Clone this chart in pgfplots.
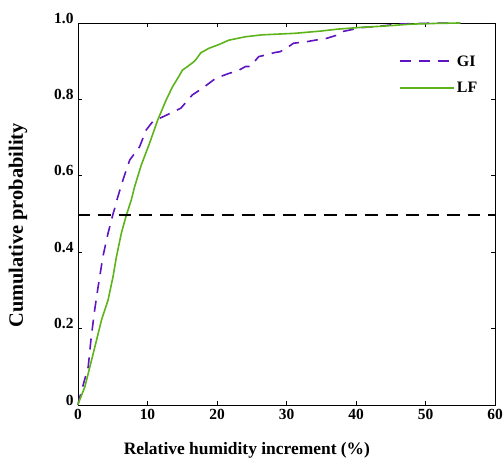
\documentclass[border=0pt]{standalone}
\usepackage{fontspec}
\setmainfont{Liberation Serif}
\usepackage{pgfplots}
\pgfplotsset{compat=1.18}
\definecolor{giPurple}{HTML}{5E14C2}
\definecolor{lfGreen}{HTML}{5CB31A}

\begin{document}
\begin{tikzpicture}
  \path[use as bounding box] (-78bp,-57bp) rectangle (425bp,405bp);
  \begin{axis}[
    scale only axis,
    width=417bp,
    height=382bp,
    xmin=0, xmax=60,
    ymin=0, ymax=1,
    xtick={0,10,20,30,40,50,60},
    ytick={0,0.2,0.4,0.6,0.8,1.0},
    yticklabels={0,0.2,0.4,0.6,0.8,1.0},
    tick align=inside,
    major tick length=4bp,
    tick style={black, line width=0.6pt},
    axis line style={black, line width=0.8pt},
    tick label style={font=\fontsize{15.5}{17}\selectfont\bfseries},
    /pgf/number format/assume math mode=true,
    yticklabel style={yshift=5bp, xshift=-1bp},
    xticklabel style={yshift=-1bp},
    xlabel={Relative humidity increment (\%)},
    ylabel={Cumulative probability},
    xlabel style={font=\fontsize{17.5}{19}\selectfont\bfseries,
      at={(axis description cs:0.405,-0.118)}, anchor=center},
    ylabel style={font=\fontsize{20.5}{22}\selectfont\bfseries,
      at={(axis description cs:-0.144,0.47)}, anchor=center},
    legend style={
      at={(axis description cs:0.762,0.926)},
      anchor=north west,
      draw=none, fill=none,
      font=\fontsize{16}{18}\selectfont\bfseries,
      row sep=11bp,
      /tikz/every even column/.append style={column sep=1bp},
    },
    legend cell align=left,
    legend image code/.code={\draw[#1, line width=2pt] (0bp,0bp) -- (27bp,0bp) -- (54bp,0bp);},
    clip=false,
  ]
    \addplot[giPurple, line width=1.6pt, dash pattern=on 11bp off 8bp] coordinates {
      (0,0) (0.14,0.013) (1.47,0.10) (1.86,0.17) (2.33,0.24) (2.9,0.31)
      (3.6,0.39) (4.33,0.45) (5.04,0.50) (5.29,0.515) (5.6,0.537) (6.47,0.589)
      (7.43,0.641) (8.86,0.676) (9.81,0.72) (10.76,0.742) (11.47,0.748)
      (13.1,0.762) (14.8,0.777) (16.47,0.812) (17.9,0.829) (19.8,0.855)
      (21.7,0.868) (22.9,0.874) (24.1,0.886) (24.8,0.886) (26.0,0.912)
      (26.96,0.916) (28.4,0.923) (29.1,0.925) (30.3,0.938) (31.0,0.947)
      (32.9,0.951) (34.1,0.955) (35.8,0.96) (37.4,0.969) (37.9,0.977)
      (40.8,0.988) (43.6,0.992) (46.0,0.997) (48.9,0.999) (55.0,1.0)
    };
    \addlegendentry{GI}
    \addplot[lfGreen, line width=1.6pt] coordinates {
      (0,0) (0.04,0.004) (1.0,0.048) (1.96,0.118) (2.67,0.17) (3.39,0.223)
      (4.33,0.275) (5.04,0.336) (5.53,0.388) (6.24,0.45) (6.96,0.497)
      (7.67,0.537) (8.14,0.571) (9.1,0.628) (10.29,0.685) (11.47,0.746)
      (12.67,0.798) (13.6,0.833) (14.57,0.862) (15.04,0.877) (15.76,0.886)
      (16.7,0.899) (17.0,0.905) (17.67,0.922) (18.86,0.934) (20.2,0.943)
      (21.7,0.955) (24.1,0.964) (26.5,0.969) (31.2,0.973) (35.0,0.979)
      (37.4,0.984) (40.3,0.988) (44.1,0.992) (47.9,0.997) (51.7,0.999)
      (55.0,1.0)
    };
    \addlegendentry{LF}
    \addplot[black, line width=1.6pt, dash pattern=on 12.5bp off 8bp, forget plot]
      coordinates {(0,0.497) (60,0.497)};
  \end{axis}
\end{tikzpicture}
\end{document}
